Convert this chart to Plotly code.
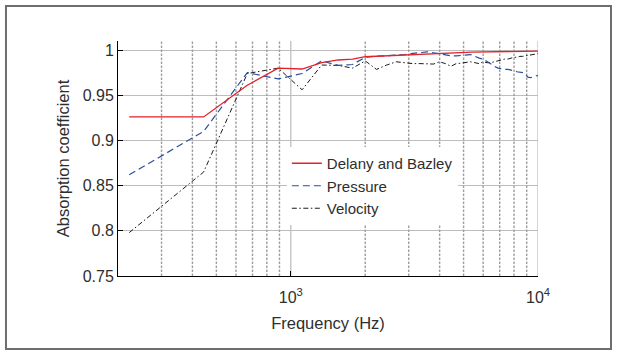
import plotly.graph_objects as go

# ---- data ----
freq_hz = [222, 444, 667, 889, 1111, 1333, 1556, 1778, 2000, 2222,
           2444, 2667, 2889, 3111, 3333, 3556, 3778, 4000, 4222, 4444,
           4667, 4889, 5111, 5333, 5556, 5778, 6000, 6222, 6444, 6667,
           6889, 7111, 7333, 7556, 7778, 8000, 8222, 8444, 8667, 8889,
           9111, 9333, 9556, 9778, 10000]

delany_bazley = [0.926, 0.926, 0.961, 0.980, 0.979, 0.986, 0.989, 0.990, 0.9926, 0.9932,
                 0.9938, 0.9944, 0.9949, 0.9953, 0.9957, 0.9960, 0.9963, 0.9966, 0.9968, 0.9970,
                 0.9972, 0.9974, 0.9975, 0.9976, 0.9977, 0.9978, 0.9979, 0.9980, 0.9981, 0.9982,
                 0.9983, 0.9983, 0.9984, 0.9984, 0.9985, 0.9985, 0.9986, 0.9986, 0.9987, 0.9987,
                 0.9987, 0.9988, 0.9988, 0.9988, 0.9989]

pressure = [0.862, 0.910, 0.975, 0.968, 0.974, 0.988, 0.983, 0.984, 0.992, 0.9934,
            0.9937, 0.994, 0.995, 0.9963, 0.997, 0.998, 0.997, 0.9958, 0.995, 0.9937,
            0.9935, 0.994, 0.995, 0.995, 0.993, 0.991, 0.990, 0.987, 0.984, 0.982,
            0.980, 0.979, 0.9786, 0.9786, 0.978, 0.977, 0.976, 0.9757, 0.975, 0.973,
            0.970, 0.9694, 0.970, 0.971, 0.972]

velocity = [0.798, 0.865, 0.974, 0.980, 0.956, 0.9834, 0.983, 0.980, 0.988, 0.9786,
            0.9834, 0.987, 0.986, 0.985, 0.985, 0.985, 0.9845, 0.987, 0.985, 0.982,
            0.985, 0.9855, 0.986, 0.987, 0.986, 0.985, 0.987, 0.986, 0.986, 0.987,
            0.988, 0.989, 0.990, 0.990, 0.991, 0.992, 0.992, 0.993, 0.993, 0.9935,
            0.994, 0.9945, 0.995, 0.9955, 0.996]

minor_grid_hz = [300, 400, 500, 600, 700, 800, 900,
                 2000, 3000, 4000, 5000, 6000, 7000, 8000, 9000]
major_grid_hz = [1000, 10000]

y_ticks = [0.75, 0.8, 0.85, 0.9, 0.95, 1.0]
y_tick_text = ["0.75", "0.8", "0.85", "0.9", "0.95", "1"]
x_ticks = [1000, 10000]
x_tick_text = ["10<sup>3</sup>", "10<sup>4</sup>"]

Y_MIN, Y_MAX = 0.75, 1.01

fig = go.Figure()


def vlines(xs):
    gx, gy = [], []
    for f in xs:
        gx += [f, f, None]
        gy += [Y_MIN, Y_MAX, None]
    return gx, gy


mx, my = vlines(minor_grid_hz)
fig.add_trace(go.Scatter(x=mx, y=my, mode="lines", showlegend=False, hoverinfo="skip",
                         line=dict(color="#9e9e9e", width=1.4, dash="2.5px,1.5px")))
Mx, My = vlines(major_grid_hz)
fig.add_trace(go.Scatter(x=Mx, y=My, mode="lines", showlegend=False, hoverinfo="skip",
                         line=dict(color="#c0c0c0", width=1.3)))

fig.add_trace(go.Scatter(x=freq_hz, y=velocity, mode="lines", name="Velocity",
                         legendrank=3,
                         line=dict(color="#1a1a1a", width=1, dash="5px,2.5px,1.5px,2.5px")))
fig.add_trace(go.Scatter(x=freq_hz, y=pressure, mode="lines", name="Pressure",
                         legendrank=2,
                         line=dict(color="#2a4d9c", width=1.2, dash="7px,4px")))
fig.add_trace(go.Scatter(x=freq_hz, y=delany_bazley, mode="lines", name="Delany and Bazley",
                         legendrank=1,
                         line=dict(color="#e3222a", width=1.3)))

font_family = "Liberation Sans, Arial, sans-serif"

fig.update_layout(
    width=617, height=354,
    margin=dict(l=118, r=79, t=41, b=78),
    paper_bgcolor="white", plot_bgcolor="white",
    font=dict(family=font_family, color="#2e2e2e", size=16),
    showlegend=True,
    legend=dict(x=0.402, y=0.549, xanchor="left", yanchor="top",
                bgcolor="white", borderwidth=0,
                font=dict(size=15, color="#2e2e2e"),
                tracegroupgap=0, itemwidth=30),
    xaxis=dict(type="log", range=[2.30103, 4.0],
               tickmode="array", tickvals=x_ticks, ticktext=x_tick_text,
               ticks="inside", ticklen=5, tickcolor="black",
               ticklabelstandoff=7,
               showgrid=False, zeroline=False,
               showline=True, linecolor="black", linewidth=1,
               tickfont=dict(size=16),
               title=dict(text="Frequency (Hz)", font=dict(size=16.5), standoff=12)),
    yaxis=dict(range=[Y_MIN, Y_MAX],
               tickmode="array", tickvals=y_ticks, ticktext=y_tick_text,
               ticks="inside", ticklen=5, tickcolor="black",
               showgrid=True, gridcolor="#bdbdbd", gridwidth=1.4,
               zeroline=False,
               showline=True, linecolor="black", linewidth=1,
               tickfont=dict(size=16),
               title=dict(text="Absorption coefficient", font=dict(size=16.5), standoff=8)),
    shapes=[dict(type="rect", xref="paper", yref="paper",
                 x0=-0.2667, x1=1.1738, y0=-0.3106, y1=1.1489,
                 line=dict(color="#6e6e6e", width=2), fillcolor="rgba(0,0,0,0)",
                 layer="above")],
)

fig.write_html("out.html")
